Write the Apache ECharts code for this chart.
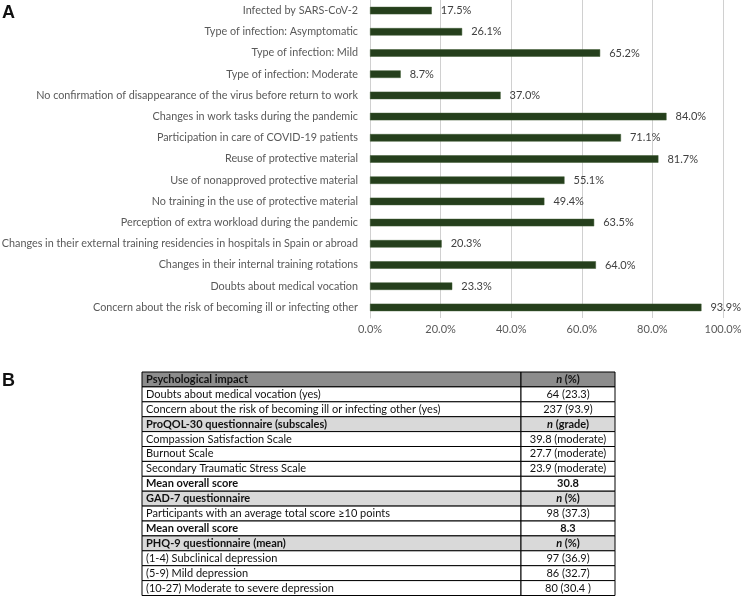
<!DOCTYPE html>
<html>
<head>
<meta charset="utf-8">
<script src="https://cdn.jsdelivr.net/npm/echarts@6/dist/echarts.min.js"></script>
<style>
html,body{margin:0;padding:0;background:#fff;}
#main{width:743px;height:598px;}
</style>
</head>
<body>
<div id="main"></div>
<script>
// ---- Panel A data ----
const categories = [
  'Infected by SARS-CoV-2',
  'Type of infection: Asymptomatic',
  'Type of infection: Mild',
  'Type of infection: Moderate',
  'No confirmation of disappearance of the virus before return to work',
  'Changes in work tasks during the pandemic',
  'Participation in care of COVID-19 patients',
  'Reuse of protective material',
  'Use of nonapproved protective material',
  'No training in the use of protective material',
  'Perception of extra workload during the pandemic',
  'Changes in their external training residencies in hospitals in Spain or abroad',
  'Changes in their internal training rotations',
  'Doubts about medical vocation',
  'Concern about the risk of becoming ill or infecting other'
];
const percentValues = [17.5, 26.1, 65.2, 8.7, 37.0, 84.0, 71.1, 81.7, 55.1, 49.4, 63.5, 20.3, 64.0, 23.3, 93.9];
const axisTicks = [0, 20, 40, 60, 80, 100];

// ---- Panel B table data ----
const tableLabels = [
  'Psychological impact',
  'Doubts about medical vocation (yes)',
  'Concern about the risk of becoming ill or infecting other (yes)',
  'ProQOL-30 questionnaire (subscales)',
  'Compassion Satisfaction Scale',
  'Burnout Scale',
  'Secondary Traumatic Stress Scale',
  'Mean overall score',
  'GAD-7 questionnaire',
  'Participants with an average total score \u226510 points',
  'Mean overall score',
  'PHQ-9 questionnaire (mean)',
  '(1-4) Subclinical depression',
  '(5-9) Mild depression',
  '(10-27) Moderate to severe depression'
];
const tableValues = [
  '{i|n} (%)',
  '64 (23.3)',
  '237 (93.9)',
  '{i|n} (grade)',
  '39.8 (moderate)',
  '27.7 (moderate)',
  '23.9 (moderate)',
  '30.8',
  '{i|n} (%)',
  '98 (37.3)',
  '8.3',
  '{i|n} (%)',
  '97 (36.9)',
  '86 (32.7)',
  '80 (30.4 )'
];
// row kinds: h = main header, s = section header, b = bold row, n = normal
const tableKinds = ['h','n','n','s','n','n','n','b','s','n','b','s','n','n','n'];

const FONT = 'Lato, "Open Sans", sans-serif';

// build table graphics
const tX = 142, tDiv = 521, tR = 615, tTop = 372, rowH = 14.9;
const fills = {h:'#8c8c8c', s:'#d9d9d9', b:'#ffffff', n:'#ffffff'};
const tableGraphics = [];
tableLabels.forEach((lab, i) => {
  const y = tTop + i * rowH;
  const kind = tableKinds[i];
  const bold = kind !== 'n';
  tableGraphics.push({
    type:'rect', shape:{x:tX, y:y, width:tDiv - tX, height:rowH},
    style:{fill:fills[kind], stroke:'#000', lineWidth:1}
  });
  tableGraphics.push({
    type:'rect', shape:{x:tDiv, y:y, width:tR - tDiv, height:rowH},
    style:{fill:fills[kind], stroke:'#000', lineWidth:1}
  });
  tableGraphics.push({
    type:'text', x:tX + 4, y:y + rowH/2,
    style:{text:lab, fill:'#111', font:(bold?'bold ':'') + '11px ' + FONT, verticalAlign:'middle', align:'left'}
  });
  tableGraphics.push({
    type:'text', x:(tDiv + tR)/2, y:y + rowH/2,
    style:{text:tableValues[i], fill:'#111', fontFamily:FONT, fontSize:11, fontWeight:bold?'bold':'normal',
      verticalAlign:'middle', align:'center',
      rich:{i:{fontStyle:'italic', fontWeight:'bold', fontFamily:FONT, fontSize:11, fill:'#111'}}}
  });
});

const chart = echarts.init(document.getElementById('main'), null, {renderer:'canvas'});
chart.setOption({
  animation:false,
  backgroundColor:'#fff',
  grid:{left:370, right:20, top:0, height:318, containLabel:false, outerBoundsMode:'none'},
  xAxis:{
    type:'value', min:axisTicks[0], max:axisTicks[axisTicks.length-1], interval:axisTicks[1]-axisTicks[0],
    axisLine:{show:false}, axisTick:{show:false},
    splitLine:{show:true, lineStyle:{color:'#d0d0d0', width:1}},
    axisLabel:{formatter:v => v.toFixed(1) + '%', color:'#595959', fontFamily:FONT, fontSize:11, margin:6}
  },
  yAxis:{
    type:'category', data:categories, inverse:true,
    axisLine:{show:true, lineStyle:{color:'#d0d0d0'}}, axisTick:{show:false},
    axisLabel:{color:'#595959', fontFamily:FONT, fontSize:10.8, margin:12, interval:0}
  },
  series:[{
    type:'bar', data:percentValues, barWidth:7.5,
    itemStyle:{color:'#253f1c', borderColor:'#3f5a33', borderWidth:0.5},
    label:{show:true, position:'right', distance:9, formatter:p => p.value.toFixed(1) + '%',
      color:'#404040', fontFamily:FONT, fontSize:11}
  }],
  graphic:[
    {type:'text', x:2, y:4, style:{text:'A', font:'bold 18px "Liberation Sans", Arial, sans-serif', fill:'#111'}},
    {type:'text', x:2, y:372, style:{text:'B', font:'bold 18px "Liberation Sans", Arial, sans-serif', fill:'#111'}},
    ...tableGraphics
  ]
});
</script>
</body>
</html>
